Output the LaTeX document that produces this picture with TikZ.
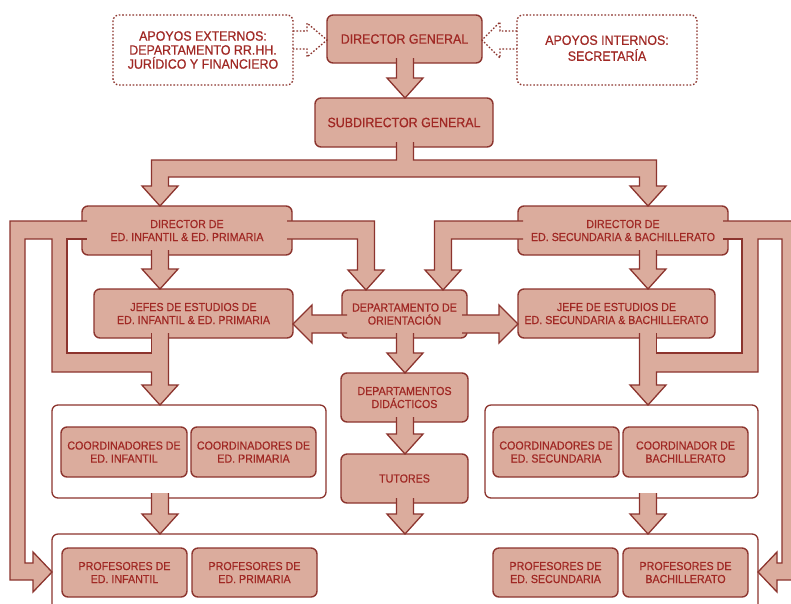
\documentclass[tikz,border=0pt]{standalone}
\usepackage{fontspec}
\setmainfont{Liberation Sans}[FakeStretch=0.92,FakeBold=0.6]
\usetikzlibrary{calc}
\definecolor{boxfill}{RGB}{219,172,157}
\definecolor{linec}{RGB}{140,52,46}
\definecolor{textc}{RGB}{160,40,36}

% vertical block arrow: #1 x (px), #2 start anchor, #3 tip anchor
\newcommand\vtarrow[3]{%
  \fill[afill] let \p3=(#1,0), \p1=(#2), \p2=(#3) in
    (\x3-8.5pt,\y1+5pt) -- (\x3-8.5pt,\y2+20pt) -- (\x3-18pt,\y2+20pt) -- (\x3,\y2)
    -- (\x3+18pt,\y2+20pt) -- (\x3+8.5pt,\y2+20pt) -- (\x3+8.5pt,\y1+5pt) -- cycle;
  \draw[aline] let \p3=(#1,0), \p1=(#2), \p2=(#3) in
    (\x3-8.5pt,\y1+5pt) -- (\x3-8.5pt,\y2+20pt) -- (\x3-18pt,\y2+20pt) -- (\x3,\y2)
    -- (\x3+18pt,\y2+20pt) -- (\x3+8.5pt,\y2+20pt) -- (\x3+8.5pt,\y1+5pt);
}
% horizontal block arrow: #1 y (px), #2 start anchor, #3 tip anchor, #4 direction (1 or -1)
\newcommand\hzarrow[4]{%
  \fill[afill] let \p3=(0,#1), \p1=(#2), \p2=(#3), \n1={#4*5}, \n2={#4*19} in
    ({\x1-\n1},{\y3+9pt}) -- ({\x2-\n2},{\y3+9pt}) -- ({\x2-\n2},{\y3+19pt}) -- (\x2,\y3)
    -- ({\x2-\n2},{\y3-19pt}) -- ({\x2-\n2},{\y3-9pt}) -- ({\x1-\n1},{\y3-9pt}) -- cycle;
  \draw[aline] let \p3=(0,#1), \p1=(#2), \p2=(#3), \n1={#4*5}, \n2={#4*19} in
    ({\x1-\n1},{\y3+9pt}) -- ({\x2-\n2},{\y3+9pt}) -- ({\x2-\n2},{\y3+19pt}) -- (\x2,\y3)
    -- ({\x2-\n2},{\y3-19pt}) -- ({\x2-\n2},{\y3-9pt}) -- ({\x1-\n1},{\y3-9pt});
}

\begin{document}
\begin{tikzpicture}[x=1pt,y=-1pt,
  box/.style={draw=linec, fill=boxfill, line width=1.4pt, rounded corners=6pt,
    inner sep=0pt, outer sep=0pt, text=textc, align=center,
    font=\fontsize{11.6}{13}\selectfont},
  bigbox/.style={box, font=\fontsize{13.5}{14}\selectfont},
  dotbox/.style={draw=linec, line width=1.3pt, dash pattern=on 1.6pt off 1.8pt,
    rounded corners=6pt, inner sep=0pt, outer sep=0pt, text=textc, align=center,
    font=\fontsize{13.5}{14}\selectfont},
  groupbox/.style={draw=linec, fill=white, line width=1.3pt, rounded corners=6pt,
    inner sep=0pt, outer sep=0pt},
  afill/.style={fill=boxfill},
  aline/.style={draw=linec, line width=1.3pt, line join=miter},
  dline/.style={draw=linec, line width=1.3pt, dash pattern=on 1.6pt off 1.8pt},
]
\path[use as bounding box, clip] (0,0) rectangle (791,603);
\fill[white] (0,0) rectangle (791,603);

% group containers
\node[groupbox, minimum width=274, minimum height=93] (cleft) at (189,451.5) {};
\node[groupbox, minimum width=273, minimum height=93] (cright) at (621.5,451.5) {};
\node[groupbox, minimum width=706, minimum height=110] (profs) at (405,589) {};

% top row
\node[dotbox, minimum width=180, minimum height=70] (ext) at (203,50) {APOYOS EXTERNOS:\\DEPARTAMENTO RR.HH.\\JURÍDICO Y FINANCIERO};
\node[bigbox, minimum width=155, minimum height=48] (dg) at (404.5,39) {DIRECTOR GENERAL};
\node[dotbox, minimum width=180, minimum height=70] (int) at (607,50) {\raisebox{3pt}{\begin{tabular}{@{}c@{}}APOYOS INTERNOS:\\SECRETARÍA\end{tabular}}};
\node[bigbox, minimum width=178, minimum height=49] (sub) at (404,122.5) {SUBDIRECTOR GENERAL};

% directors
\node[box, minimum width=210, minimum height=49] (dinf) at (187,230.5) {DIRECTOR DE\\ED. INFANTIL \& ED. PRIMARIA};
\node[box, minimum width=210, minimum height=49] (dsec) at (623,230.5) {DIRECTOR DE\\ED. SECUNDARIA \& BACHILLERATO};

% jefes + orientation
\node[box, minimum width=199, minimum height=49] (jinf) at (193.5,313.5) {JEFES DE ESTUDIOS DE\\ED. INFANTIL \& ED. PRIMARIA};
\node[box, minimum width=125, minimum height=48] (orient) at (404.5,314) {DEPARTAMENTO DE\\ORIENTACIÓN};
\node[box, minimum width=197, minimum height=49] (jsec) at (616.5,313.5) {JEFE DE ESTUDIOS DE\\ED. SECUNDARIA \& BACHILLERATO};

% center column
\node[box, minimum width=127, minimum height=49] (didac) at (404.5,397.5) {DEPARTAMENTOS\\DIDÁCTICOS};
\node[box, minimum width=127, minimum height=49] (tut) at (404.5,478.5) {TUTORES};

% coordinators
\node[box, minimum width=126, minimum height=50] (cinf) at (124,452) {COORDINADORES DE\\ED. INFANTIL};
\node[box, minimum width=125, minimum height=50] (cpri) at (253.5,452) {COORDINADORES DE\\ED. PRIMARIA};
\node[box, minimum width=126, minimum height=50] (csec) at (556,452) {COORDINADORES DE\\ED. SECUNDARIA};
\node[box, minimum width=125, minimum height=50] (cbac) at (685.5,452) {COORDINADOR DE\\BACHILLERATO};

% teachers
\node[box, minimum width=125, minimum height=49] (pinf) at (124.5,572.5) {PROFESORES DE\\ED. INFANTIL};
\node[box, minimum width=125, minimum height=49] (ppri) at (254.5,572.5) {PROFESORES DE\\ED. PRIMARIA};
\node[box, minimum width=125, minimum height=49] (psec) at (555.5,572.5) {PROFESORES DE\\ED. SECUNDARIA};
\node[box, minimum width=125, minimum height=49] (pbac) at (685.5,572.5) {PROFESORES DE\\BACHILLERATO};

% dotted support arrows
\draw[dline] (ext.east |- 0,31) -- (307,31) -- (307,23) -- (dg.west |- 0,40) -- (307,57) -- (307,49) -- (ext.east |- 0,49);
\draw[dline] (int.west |- 0,31) -- (500,31) -- (500,22) -- (dg.east |- 0,40) -- (500,58) -- (500,49) -- (int.west |- 0,49);

% straight block arrows
\vtarrow{405}{dg.south}{sub.north}
\vtarrow{160}{dinf.south}{jinf.north}
\vtarrow{648}{dsec.south}{jsec.north}
\vtarrow{405}{orient.south}{didac.north}
\vtarrow{405}{didac.south}{tut.north}
\vtarrow{405}{tut.south}{profs.north}
\vtarrow{160}{cleft.south}{profs.north}
\vtarrow{648}{cright.south}{profs.north}
\hzarrow{324}{orient.west}{jinf.east}{-1}
\hzarrow{324}{orient.east}{jsec.west}{1}

% subdirector -> both directors
\fill[afill] (396.5,142) -- (396.5,160) -- (151.5,160) -- (151.5,186) -- (142,186) -- (160,206) -- (178,186) -- (168.5,186) -- (168.5,177) -- (639.5,177) -- (639.5,186) -- (630,186) -- (648,206) -- (666,186) -- (656.5,186) -- (656.5,160) -- (413.5,160) -- (413.5,142) -- cycle;
\draw[aline] (396.5,142) -- (396.5,160) -- (151.5,160) -- (151.5,186) -- (142,186) -- (160,206) -- (178,186) -- (168.5,186) -- (168.5,177) -- (639.5,177) -- (639.5,186) -- (630,186) -- (648,206) -- (666,186) -- (656.5,186) -- (656.5,160) -- (413.5,160) -- (413.5,142);

% directors -> orientation
\fill[afill] (287,221) -- (374.5,221) -- (374.5,270) -- (384,270) -- (366,290) -- (348,270) -- (357.5,270) -- (357.5,239) -- (287,239) -- cycle;
\draw[aline] (287,221) -- (374.5,221) -- (374.5,270) -- (384,270) -- (366,290) -- (348,270) -- (357.5,270) -- (357.5,239) -- (287,239);
\fill[afill] (523,221) -- (434.5,221) -- (434.5,270) -- (425,270) -- (443,290) -- (461,270) -- (451.5,270) -- (451.5,239) -- (523,239) -- cycle;
\draw[aline] (523,221) -- (434.5,221) -- (434.5,270) -- (425,270) -- (443,290) -- (461,270) -- (451.5,270) -- (451.5,239) -- (523,239);

% left loop system
\fill[afill] (87,221) -- (10,221) -- (10,580) -- (33,580) -- (33,592) -- (52,572) -- (33,552) -- (33,563) -- (25,563) -- (25,239) -- (52,239) -- (52,372) -- (151.5,372) -- (151.5,385) -- (142,385) -- (160,405) -- (178,385) -- (168.5,385) -- (168.5,333) -- (151.5,333) -- (151.5,353) -- (67,353) -- (67,239) -- (87,239) -- cycle;
\draw[aline] (87,221) -- (10,221) -- (10,580) -- (33,580) -- (33,592) -- (52,572) -- (33,552) -- (33,563) -- (25,563) -- (25,239) -- (52,239) -- (52,372) -- (151.5,372) -- (151.5,385) -- (142,385) -- (160,405) -- (178,385) -- (168.5,385) -- (168.5,333);
\draw[aline] (151.5,333) -- (151.5,353) -- (67,353) -- (67,239) -- (87,239);

% right loop system
\fill[afill] (723,221) -- (800,221) -- (800,580) -- (777,580) -- (777,592) -- (758,572) -- (777,552) -- (777,563) -- (782,563) -- (782,239) -- (758,239) -- (758,372) -- (656.5,372) -- (656.5,385) -- (666,385) -- (648,405) -- (630,385) -- (639.5,385) -- (639.5,333) -- (656.5,333) -- (656.5,353) -- (742,353) -- (742,239) -- (723,239) -- cycle;
\draw[aline] (723,221) -- (800,221) -- (800,580) -- (777,580) -- (777,592) -- (758,572) -- (777,552) -- (777,563) -- (782,563) -- (782,239) -- (758,239) -- (758,372) -- (656.5,372) -- (656.5,385) -- (666,385) -- (648,405) -- (630,385) -- (639.5,385) -- (639.5,333);
\draw[aline] (656.5,333) -- (656.5,353) -- (742,353) -- (742,239) -- (723,239);
\end{tikzpicture}
\end{document}
